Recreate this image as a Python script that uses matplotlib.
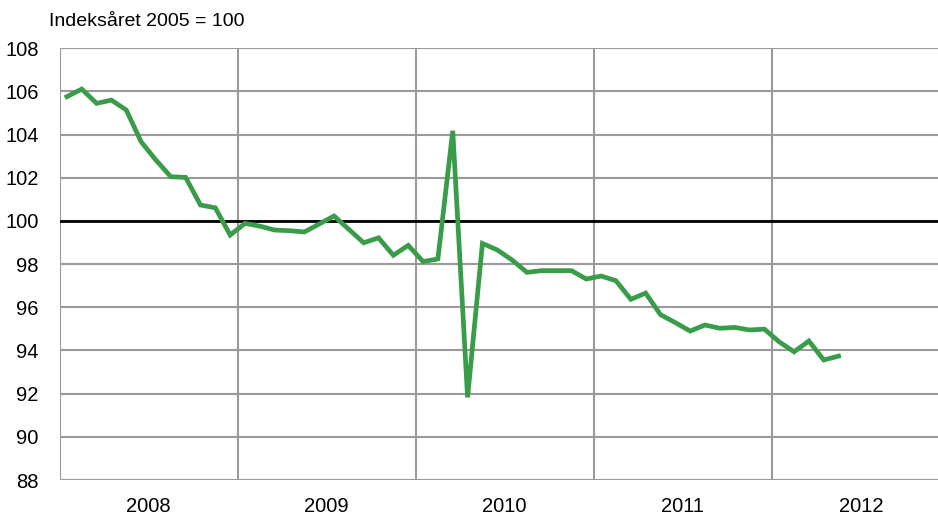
import matplotlib
matplotlib.use("Agg")
import matplotlib.pyplot as plt
import numpy as np

years = ["2008", "2009", "2010", "2011", "2012"]
y_ticks = [88, 90, 92, 94, 96, 98, 100, 102, 104, 106, 108]
index_values = [
    105.76, 106.11, 105.45, 105.60, 105.14, 103.67, 102.82, 102.05, 102.02, 100.74, 100.61, 99.35,
    99.89, 99.76, 99.58, 99.55, 99.49, 99.86, 100.23, 99.61, 98.99, 99.22, 98.41, 98.87,
    98.12, 98.24, 104.18, 91.83, 98.96, 98.66, 98.19, 97.62, 97.70, 97.70, 97.70, 97.31,
    97.45, 97.23, 96.37, 96.66, 95.66, 95.29, 94.90, 95.18, 95.03, 95.07, 94.95, 94.99,
    94.40, 93.94, 94.44, 93.56, 93.74,
]
ylabel_text = "Indeksåret 2005 = 100"

plt.rcParams["font.family"] = ["Liberation Sans", "DejaVu Sans"]

fig = plt.figure(figsize=(9.38, 5.15), dpi=100)
ax = fig.add_axes([59.5 / 938, 35 / 515, (938 - 59.5) / 938, (480 - 48.3) / 515])

x = np.arange(len(index_values)) + 0.5
ax.set_xlim(0, 59.2)
ax.set_ylim(88, 108)

grid_c = "#9a9a9a"
for yv in y_ticks:
    ax.axhline(yv, color=grid_c, lw=1.5, zorder=1)
for k in range(len(years)):
    ax.axvline(12 * k, color=grid_c, lw=1.5, zorder=1)
ax.axhline(100, color="black", lw=2.0, zorder=2)

ax.plot(x, index_values, color="#389c48", lw=3.4, solid_joinstyle="miter", zorder=3)

for s in ax.spines.values():
    s.set_visible(False)

ax.set_yticks(y_ticks)
ax.set_yticklabels([str(v) for v in y_ticks], fontsize=14.5)
ax.set_xticks([12 * k + 6 for k in range(len(years))])
ax.set_xticklabels(years, fontsize=14.5)
ax.tick_params(axis="both", length=0)
ax.tick_params(axis="y", pad=15)
ax.tick_params(axis="x", pad=12)

fig.text(49 / 938, 1 - 22 / 515, ylabel_text, fontsize=14, ha="left", va="center")

fig.savefig("out.png", dpi=100)
